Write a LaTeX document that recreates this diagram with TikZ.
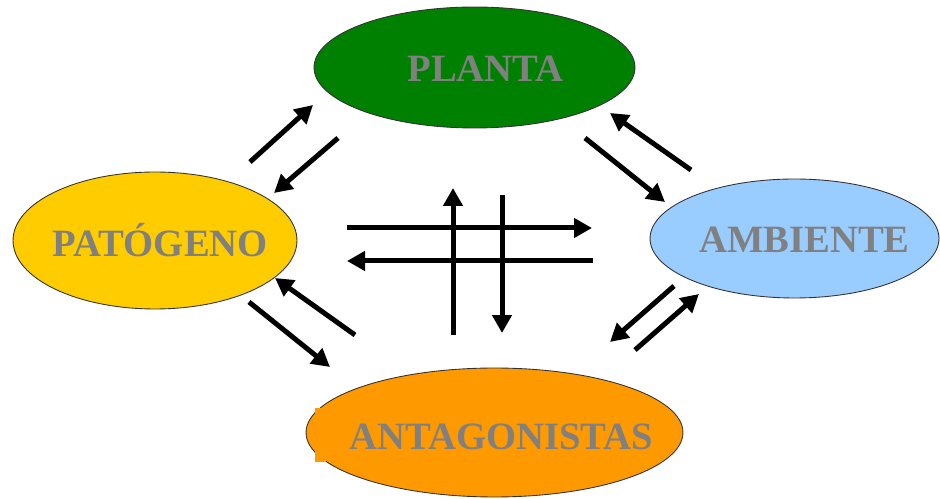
\documentclass[tikz,border=0pt]{standalone}
\usepackage{fontspec}
\setmainfont{Liberation Serif}
\usetikzlibrary{shapes.geometric,arrows.meta}
\definecolor{plantagreen}{RGB}{0,128,0}
\definecolor{patoyellow}{RGB}{255,204,0}
\definecolor{ambblue}{RGB}{153,204,255}
\definecolor{antorange}{RGB}{255,153,0}

\begin{document}
\begin{tikzpicture}[x=0.02cm,y=-0.02cm,
    blob/.style={ellipse,draw=black!80,line width=0.5pt,inner sep=0pt},
    word/.style={anchor=base,inner sep=0pt,text=gray,font=\bfseries\fontsize{22}{22}\selectfont},
    flow/.style={line width=0.1cm,-{Triangle[length=0.36cm,width=0.38cm]}}]
    \useasboundingbox (0,0) rectangle (940,499);
    % the four ellipses
    \node[blob,fill=plantagreen,minimum width=6.42cm,minimum height=2.42cm] (planta) at (474.5,67.5) {};
    \node[blob,fill=patoyellow,minimum width=5.68cm,minimum height=2.74cm] (pato) at (155,240.5) {};
    \node[blob,fill=ambblue,minimum width=5.78cm,minimum height=2.38cm] (amb) at (794.5,238.5) {};
    \node[blob,fill=antorange,minimum width=7.54cm,minimum height=2.58cm] (antag) at (494.5,432.5) {};
    \fill [antorange] (315,408) rectangle (326,462);
    % names
    \node[word] (tplanta) at (485.5,82) {PLANTA};
    \node[word] (tpato) at (160,257) {PATÓGENO};
    \node[word] (tamb) at (804.5,253) {AMBIENTE};
    \node[word] (tantag) at (501.5,450) {ANTAGONISTAS};
    % arrows
    \foreach \n/\sx/\sy/\ex/\ey in {a/250/162/313/105, b/338/138/274/193,
        c/585/138/665/202, d/691/170/610/113, e/249/302/330/367, f/355/335/275/278,
        g/674/286/610/342, h/635/350/699/294, r/347/228/592/228, l/593/261/347/261,
        u/453/335/453/188, v/502/195/502/333}
    {
        \coordinate (\n1) at (\sx,\sy);
        \coordinate (\n2) at (\ex,\ey);
        \draw[flow] (\n1)--(\n2);
    }
\end{tikzpicture}
\end{document}
